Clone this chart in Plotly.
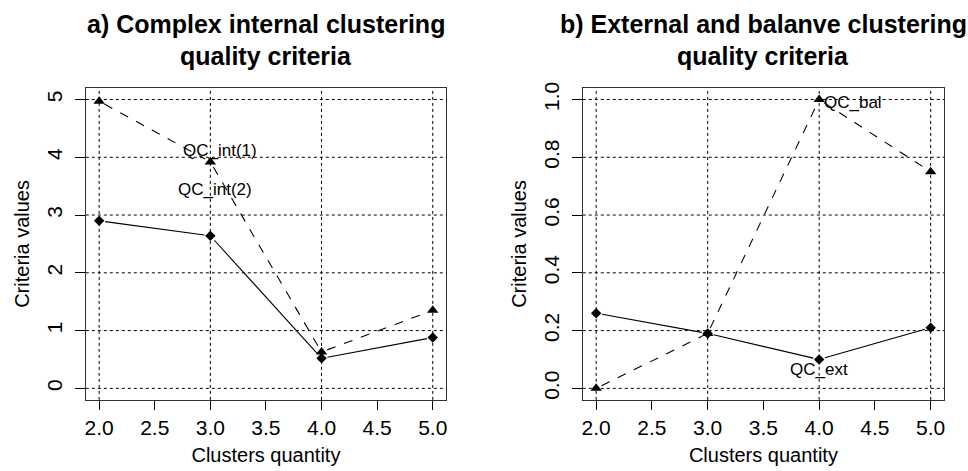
import plotly.graph_objects as go

clusters = [2, 3, 4, 5]
qc_int1 = [4.97, 3.92, 0.63, 1.35]
qc_int2 = [2.90, 2.64, 0.52, 0.88]
qc_bal = [0.0, 0.19, 1.0, 0.75]
qc_ext = [0.26, 0.19, 0.10, 0.21]

x_ticks = [2.0, 2.5, 3.0, 3.5, 4.0, 4.5, 5.0]
y1_ticks = [0, 1, 2, 3, 4, 5]
y2_ticks = [0.0, 0.2, 0.4, 0.6, 0.8, 1.0]

FONT = "Liberation Sans, Arial, sans-serif"
W, H = 968, 471
BOX_TOP, BOX_BOT = 83, 399
LEFT_BOX = (85, 446)
RIGHT_BOX = (583, 945)
XR = [1.88, 5.12]
Y1R = [-0.2, 5.2]
Y2R = [-0.04, 1.04]

fig = go.Figure()

def add_series(x, y, xa, ya, dash, symbol, size, box, yr):
    # R type="b": segments stop short of the points
    sx = (box[1] - box[0]) / (XR[1] - XR[0])
    sy = (BOX_BOT - BOX_TOP) / (yr[1] - yr[0])
    gap = 6.0
    lx, ly = [], []
    for i in range(len(x) - 1):
        dxp = (x[i + 1] - x[i]) * sx
        dyp = (y[i + 1] - y[i]) * sy
        d = (dxp ** 2 + dyp ** 2) ** 0.5
        f = gap / d
        lx += [x[i] + (x[i + 1] - x[i]) * f, x[i + 1] - (x[i + 1] - x[i]) * f, None]
        ly += [y[i] + (y[i + 1] - y[i]) * f, y[i + 1] - (y[i + 1] - y[i]) * f, None]
    fig.add_trace(go.Scatter(x=lx, y=ly, xaxis=xa, yaxis=ya, mode="lines",
                             line=dict(color="black", width=1.1, dash=dash),
                             showlegend=False, hoverinfo="skip"))
    fig.add_trace(go.Scatter(x=x, y=y, xaxis=xa, yaxis=ya, mode="markers",
                             marker=dict(symbol=symbol, size=size, color="black"),
                             showlegend=False, hoverinfo="skip"))

add_series(clusters, qc_int1, "x", "y", "dash", "triangle-up", 10, LEFT_BOX, Y1R)
add_series(clusters, qc_int2, "x", "y", "solid", "diamond", 8, LEFT_BOX, Y1R)
add_series(clusters, qc_bal, "x2", "y2", "dash", "triangle-up", 10, RIGHT_BOX, Y2R)
add_series(clusters, qc_ext, "x2", "y2", "solid", "diamond", 8, RIGHT_BOX, Y2R)

# dotted grid (R grid(): at integer cluster values and y tick values)
shapes = []
for xr, yr, yt in [("x", "y", y1_ticks), ("x2", "y2", y2_ticks)]:
    for xv in clusters:
        shapes.append(dict(type="line", xref=xr, yref=yr + " domain", x0=xv, x1=xv, y0=0, y1=1,
                           line=dict(color="black", width=1, dash="dot"), layer="below"))
    for yv in yt:
        shapes.append(dict(type="line", xref=xr + " domain", yref=yr, x0=0, x1=1, y0=yv, y1=yv,
                           line=dict(color="black", width=1, dash="dot"), layer="below"))

ydom = [1 - BOX_BOT / H, 1 - BOX_TOP / H]

def xaxis(box):
    return dict(domain=[box[0] / W, box[1] / W], range=XR, tickvals=x_ticks,
                ticktext=[f"{v:.1f}" for v in x_ticks], ticks="outside", ticklen=9,
                tickcolor="black", showgrid=False, zeroline=False, showline=True,
                linecolor="#333", linewidth=1.2, mirror=True, ticklabelstandoff=0,
                tickfont=dict(family=FONT, size=21, color="black"),
                title=dict(text="Clusters quantity", font=dict(family=FONT, size=20, color="black"), standoff=9))

def yaxis(anchor, rng, ticks, fmt):
    return dict(domain=ydom, anchor=anchor, range=rng, tickvals=ticks,
                ticktext=[fmt(v) for v in ticks], ticks="outside", ticklen=10,
                tickcolor="black", tickangle=-90, showgrid=False, zeroline=False,
                showline=True, linecolor="#333", linewidth=1.2, mirror=True, ticklabelstandoff=4,
                tickfont=dict(family=FONT, size=21, color="black"),
                title=dict(text="Criteria values", font=dict(family=FONT, size=20, color="black"), standoff=8))

annotations = []
def title(xc, lines):
    for i, t in enumerate(lines):
        annotations.append(dict(text="<b>%s</b>" % t, xref="paper", yref="paper", x=xc,
                                y=1 - (18 + 33 * i) / H, xanchor="center", yanchor="middle",
                                showarrow=False, font=dict(family=FONT, size=25, color="black")))

title(sum(LEFT_BOX) / 2 / W, ["a) Complex internal clustering", "quality criteria"])
title(sum(RIGHT_BOX) / 2 / W, ["b) External and balanve clustering", "quality criteria"])

def label(text, x, y, xr, yr):
    annotations.append(dict(text=text, x=x, y=y, xref=xr, yref=yr, showarrow=False,
                            xanchor="center", yanchor="middle",
                            font=dict(family=FONT, size=17, color="black")))

label("QC_int(1)", 3.09, 4.12, "x", "y")
label("QC_int(2)", 3.04, 3.45, "x", "y")
label("QC_bal", 4.30, 0.99, "x2", "y2")
label("QC_ext", 4.0, 0.065, "x2", "y2")

fig.update_layout(
    width=W, height=H, margin=dict(l=0, r=0, t=0, b=0),
    paper_bgcolor="white", plot_bgcolor="white",
    xaxis=xaxis(LEFT_BOX),
    yaxis=yaxis("x", Y1R, y1_ticks, lambda v: str(v)),
    xaxis2=dict(xaxis(RIGHT_BOX), anchor="y2"),
    yaxis2=yaxis("x2", Y2R, y2_ticks, lambda v: f"{v:.1f}"),
    shapes=shapes, annotations=annotations, font=dict(family=FONT),
)

fig.write_html("out.html")
